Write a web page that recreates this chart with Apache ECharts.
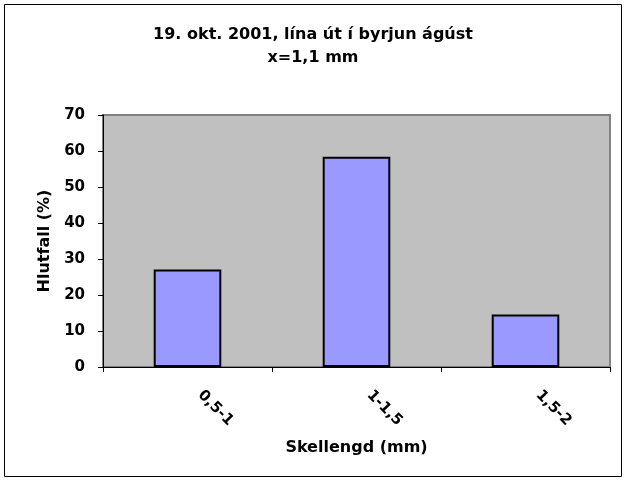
<!DOCTYPE html>
<html>
<head>
<meta charset="utf-8">
<script src="https://cdn.jsdelivr.net/npm/echarts@6/dist/echarts.min.js"></script>
<style>
  html, body { margin: 0; padding: 0; background: #fff; }
  #chart { width: 626px; height: 481px; }
</style>
</head>
<body>
<div id="chart"></div>
<script>
var categories = ['0,5-1', '1-1,5', '1,5-2'];
var values = [27.1, 58.4, 14.6];
var yTicks = [0, 10, 20, 30, 40, 50, 60, 70];

var font = 'DejaVu Sans';
var chart = echarts.init(document.getElementById('chart'), null, { renderer: 'canvas' });

var option = {
    animation: false,
    backgroundColor: '#fff',
    title: {
        text: '19. okt. 2001, lína út í byrjun ágúst\nx=1,1 mm',
        left: 'center',
        top: 18,
        textStyle: {
            fontFamily: font,
            fontSize: 16,
            fontWeight: 'bold',
            color: '#000',
            lineHeight: 23
        }
    },
    graphic: [{
        type: 'rect',
        shape: { x: 4.5, y: 4.5, width: 617, height: 472 },
        style: { fill: 'none', stroke: '#000', lineWidth: 1 },
        silent: true
    }],
    grid: {
        left: 103,
        right: 16,
        top: 115,
        bottom: 114,
        show: true,
        backgroundColor: '#C0C0C0',
        borderColor: '#808080',
        borderWidth: 2
    },
    xAxis: {
        type: 'category',
        data: categories,
        name: 'Skellengd (mm)',
        nameLocation: 'middle',
        nameGap: 73,
        nameTextStyle: { fontFamily: font, fontSize: 16, fontWeight: 'bold', color: '#000' },
        axisLine: { lineStyle: { color: '#000', width: 1 } },
        axisTick: { show: true, length: 5, lineStyle: { color: '#000' } },
        axisLabel: {
            rotate: -45,
            margin: 13,
            padding: [0, 0, 0, 18],
            fontFamily: font,
            fontSize: 15,
            fontWeight: 'bold',
            color: '#000'
        }
    },
    yAxis: {
        type: 'value',
        min: yTicks[0],
        max: yTicks[yTicks.length - 1],
        interval: 10,
        name: 'Hlutfall (%)',
        nameLocation: 'middle',
        nameGap: 49,
        nameTextStyle: { fontFamily: font, fontSize: 16, fontWeight: 'bold', color: '#000' },
        axisLine: { show: true, lineStyle: { color: '#000', width: 1 } },
        axisTick: { show: true, length: 5, lineStyle: { color: '#000' } },
        axisLabel: {
            margin: 18,
            fontFamily: font,
            fontSize: 15,
            fontWeight: 'bold',
            color: '#000'
        },
        splitLine: { show: false }
    },
    series: [{
        type: 'bar',
        data: values,
        barWidth: '40%',
        itemStyle: {
            color: '#9999FF',
            borderColor: '#000',
            borderWidth: 2
        }
    }]
};

chart.setOption(option);
</script>
</body>
</html>
